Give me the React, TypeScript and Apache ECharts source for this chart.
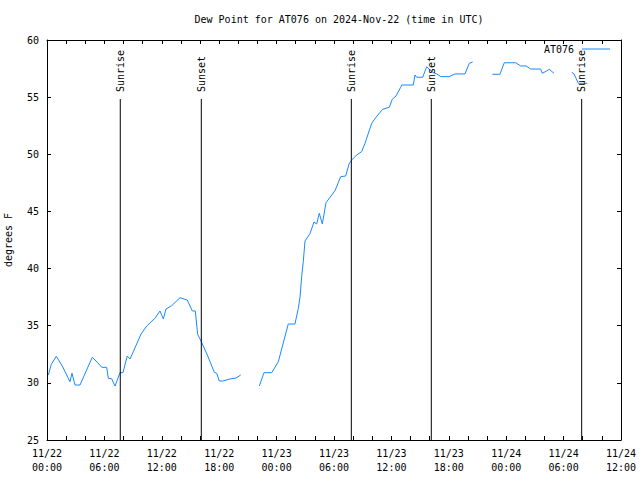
import React, { useEffect, useRef } from "react";
import * as echarts from "echarts";

const startUtc = Date.UTC(2024, 10, 22, 0, 0);
const HOUR = 3600000;

// hours since 2024-11-22 00:00 UTC
const hours = [
  0.14, 0.45, 0.97, 1.6, 2.4, 2.61, 2.93, 3.45, 4.73, 5.26, 5.72, 6.24, 6.41, 6.76, 7.11, 7.63, 7.94,
  8.39, 8.68, 9.02, 9.83, 10.42, 11.29, 11.81, 12.16, 12.44, 13.03, 13.9, 14.66, 15.19, 15.5, 15.75,
  16.13, 16.76, 17.49, 17.74, 18.01, 18.37, 19.13, 19.76, 20.25,
  21.2,
  22.19, 22.68, 23.49, 24.18, 25.22, 25.92, 26.27, 26.45, 26.62, 26.79, 26.97, 27.49, 27.91, 28.19,
  28.46, 28.78, 29.16, 30.1, 30.7, 31.22, 31.57, 31.85, 32.37, 32.89, 33.24, 33.94, 34.39, 35.09,
  35.78, 36.09, 36.48, 36.97, 37.08, 38.29, 38.47, 38.64, 39.27, 39.69, 40.03, 40.38, 40.73, 41.18,
  42.02, 42.65, 43.69, 44.14, 44.5,
  45.5,
  46.55, 47.35, 47.8, 48.99, 49.51, 50.07, 50.56, 51.6, 51.77, 52.23, 52.5, 52.99,
  54.0,
  54.84, 55.09, 55.54, 56.48,
];

// dew point, degrees F (null = no data)
const dewPointF = [
  30.69, 31.62, 32.32, 31.47, 30.1, 30.84, 29.81, 29.81, 32.24, 31.8, 31.36, 31.36, 30.4, 30.36, 29.72,
  30.89, 30.89, 32.35, 32.09, 32.73, 34.27, 34.97, 35.65, 36.29, 35.59, 36.46, 36.75, 37.45, 37.25,
  36.29, 36.29, 34.25, 33.6, 32.44, 30.92, 30.84, 30.16, 30.16, 30.34, 30.42, 30.69,
  null,
  29.72, 30.89, 30.89, 31.85, 35.15, 35.15, 36.52, 37.5, 39.3, 40.6, 42.41, 43.07, 44.07, 43.9,
  44.84, 43.9, 45.76, 46.81, 48.04, 48.1, 49.15, 49.5, 49.94, 50.23, 50.96, 52.71, 53.24, 53.94,
  54.11, 54.81, 55.1, 55.86, 56.06, 56.06, 56.94, 56.74, 56.74, 57.66, 57.38, 57.14, 57.03, 56.79,
  56.79, 57.03, 57.03, 57.96, 58.08,
  null,
  57.0, 57.0, 58.01, 58.01, 57.73, 57.73, 57.46, 57.46, 57.09, 57.29, 57.44, 57.09,
  null,
  57.17, 57.03, 56.21, 56.21,
];

// sun events, hours since start
const sunEventHours = [7.66, 16.13, 31.81, 40.17, 55.89];
const sunEventLabels = ["Sunrise", "Sunset", "Sunrise", "Sunset", "Sunrise"];

const yMin = 25;
const yMax = 60;
const yStep = 5;
const xSpanHours = 60;

const stationName = "AT076";
const titleText = "Dew Point for AT076 on 2024-Nov-22 (time in UTC)";

const FONT = '"DejaVu Sans Mono", monospace';
const LINE_COLOR = "#1a88ff";

function pad(n: number) {
  return n < 10 ? "0" + n : "" + n;
}

export default function App() {
  const ref = useRef<HTMLDivElement>(null);

  useEffect(() => {
    if (!ref.current) return;
    const chart = echarts.init(ref.current, undefined, { renderer: "svg" });

    const seriesData = hours.map((h, i) => [startUtc + h * HOUR, dewPointF[i]]);
    const sunData = sunEventHours.map((h, i) => [startUtc + h * HOUR, sunEventLabels[i]]);

    const xMin = startUtc;
    const xMax = startUtc + xSpanHours * HOUR;
    const xInterval = 6 * HOUR;

    const commonX = {
      type: "value" as const,
      min: xMin,
      max: xMax,
      interval: xInterval,
      splitLine: { show: false },
      axisLine: { show: true, onZero: false, lineStyle: { color: "#000", width: 1 } },
      axisTick: { show: true, inside: true, length: 4, lineStyle: { color: "#000" } },
      minorTick: { show: true, splitNumber: 3, length: 4, lineStyle: { color: "#000" } },
      minorSplitLine: { show: false },
    };
    const commonY = {
      type: "value" as const,
      min: yMin,
      max: yMax,
      interval: yStep,
      splitLine: { show: false },
      axisLine: { show: true, onZero: false, lineStyle: { color: "#000", width: 1 } },
      axisTick: { show: true, inside: true, length: 4, lineStyle: { color: "#000" } },
    };

    chart.setOption({
      animation: false,
      backgroundColor: "#fff",
      textStyle: { fontFamily: FONT },
      title: {
        text: titleText,
        left: 334,
        top: 9,
        textAlign: "center",
        textStyle: { fontFamily: FONT, fontSize: 10, fontWeight: "normal", color: "#000" },
      },
      legend: {
        right: 30,
        top: 44,
        padding: 0,
        align: "right",
        itemWidth: 28,
        itemHeight: 10,
        itemGap: 0,
        textStyle: { fontFamily: FONT, fontSize: 10, color: "#000", padding: [0, 3, 0, 0] },
        data: [{ name: stationName, icon: "path://M0,5 L28,5 L28,6 L0,6 Z" }],
      },
      grid: {
        left: 47,
        right: 19,
        top: 40,
        bottom: 40,
        containLabel: false,
        outerBoundsMode: "none",
      },
      xAxis: [
        {
          ...commonX,
          position: "bottom",
          axisLabel: {
            show: true,
            margin: 6,
            fontFamily: FONT,
            fontSize: 10,
            color: "#000",
            lineHeight: 14,
            formatter: (v: number) => {
              const d = new Date(v);
              return (
                pad(d.getUTCMonth() + 1) +
                "/" +
                pad(d.getUTCDate()) +
                "\n" +
                pad(d.getUTCHours()) +
                ":" +
                pad(d.getUTCMinutes())
              );
            },
          },
        },
        { ...commonX, position: "top", axisLabel: { show: false } },
      ],
      yAxis: [
        {
          ...commonY,
          position: "left",
          name: "degrees F",
          nameLocation: "middle",
          nameGap: 34,
          nameRotate: 90,
          nameTextStyle: { fontFamily: FONT, fontSize: 10, color: "#000" },
          axisLabel: { show: true, margin: 8, fontFamily: FONT, fontSize: 10, color: "#000" },
        },
        { ...commonY, position: "right", axisLabel: { show: false } },
      ],
      series: [
        {
          name: stationName,
          type: "line",
          data: seriesData,
          xAxisIndex: 0,
          yAxisIndex: 0,
          showSymbol: false,
          symbol: "none",
          connectNulls: false,
          lineStyle: { color: LINE_COLOR, width: 1 },
          itemStyle: { color: LINE_COLOR },
          z: 3,
        },
        {
          name: "sun",
          type: "custom",
          data: sunData,
          xAxisIndex: 0,
          yAxisIndex: 0,
          clip: false,
          z: 4,
          renderItem: (params: any, api: any) => {
            const t = api.value(0);
            const top = api.coord([t, 54.84]);
            const bottom = api.coord([t, yMin]);
            const lab = api.coord([t, 55.45]);
            const text = sunData[params.dataIndex][1] as string;
            return {
              type: "group",
              children: [
                {
                  type: "line",
                  shape: { x1: top[0], y1: top[1], x2: bottom[0], y2: bottom[1] },
                  style: { stroke: "#000", lineWidth: 1 },
                },
                {
                  type: "text",
                  x: lab[0],
                  y: lab[1],
                  rotation: Math.PI / 2,
                  style: {
                    text,
                    fill: "#000",
                    font: '10px "DejaVu Sans Mono", monospace',
                    align: "left",
                    verticalAlign: "middle",
                  },
                },
              ],
            };
          },
        },
      ],
    });

    return () => chart.dispose();
  }, []);

  return (
    <div
      ref={ref}
      style={{ position: "fixed", left: 0, top: 0, width: 640, height: 480, background: "#fff" }}
    />
  );
}
